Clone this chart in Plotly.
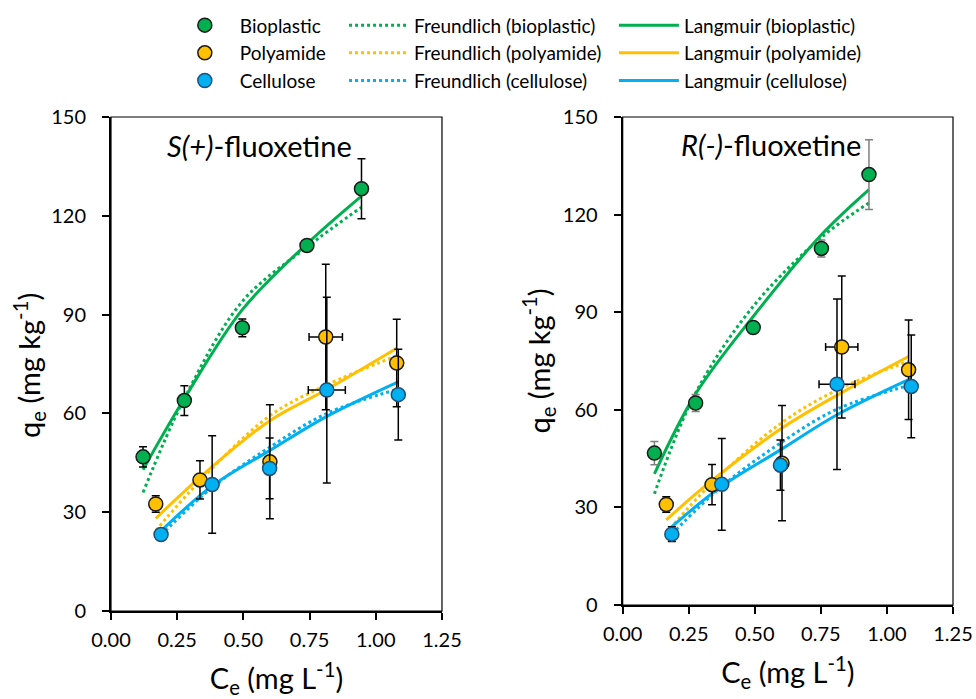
import plotly.graph_objects as go

# ---------------- data: S(+)-fluoxetine ----------------
s_bio_c = [0.121, 0.277, 0.496, 0.740, 0.946]
s_bio_q = [46.8, 63.9, 86.0, 111.0, 128.2]
s_bio_qerr = [3.1, 4.5, 2.7, 1.5, 9.1]
s_bio_cerr = [0.006, 0.006, 0.008, 0.012, 0.015]

s_pa_c = [0.169, 0.336, 0.600, 0.811, 1.079]
s_pa_q = [32.5, 39.8, 45.3, 83.2, 75.3]
s_pa_qerr = [2.5, 5.8, 17.3, 22.1, 13.3]
s_pa_cerr = [0.006, 0.006, 0.008, 0.063, 0.015]

s_ce_c = [0.189, 0.382, 0.599, 0.815, 1.085]
s_ce_q = [23.2, 38.4, 43.3, 67.1, 65.7]
s_ce_qerr = [1.5, 14.8, 9.2, 28.2, 13.8]
s_ce_cerr = [0.006, 0.016, 0.008, 0.070, 0.020]

s_bio_freund = [36.0, 64.5, 94.0, 110.5, 122.6]
s_bio_lang = [42.9, 64.5, 91.5, 111.5, 126.0]
s_pa_freund = [24.4, 39.5, 59.3, 68.5, 77.5]
s_pa_lang = [28.1, 40.6, 57.8, 67.1, 79.8]
s_ce_freund = [23.0, 37.5, 49.7, 60.0, 67.4]
s_ce_lang = [24.3, 38.0, 48.7, 59.1, 69.6]

# ---------------- data: R(-)-fluoxetine ----------------
r_bio_c = [0.120, 0.276, 0.494, 0.752, 0.932]
r_bio_q = [46.7, 62.1, 85.3, 109.6, 132.3]
r_bio_qerr = [3.6, 2.6, 1.0, 2.6, 10.7]
r_bio_cerr = [0.006, 0.006, 0.010, 0.006, 0.008]

r_pa_c = [0.165, 0.338, 0.603, 0.829, 1.082]
r_pa_q = [30.9, 37.0, 43.6, 79.3, 72.3]
r_pa_qerr = [2.4, 6.2, 17.7, 21.8, 15.3]
r_pa_cerr = [0.006, 0.006, 0.008, 0.061, 0.015]

r_ce_c = [0.186, 0.375, 0.597, 0.811, 1.092]
r_ce_q = [21.8, 37.1, 43.0, 67.9, 67.2]
r_ce_qerr = [2.3, 14.1, 7.7, 26.2, 15.8]
r_ce_cerr = [0.006, 0.015, 0.008, 0.068, 0.015]

r_bio_freund = [34.2, 65.2, 91.8, 113.0, 123.6]
r_bio_lang = [40.3, 64.9, 88.7, 113.8, 127.7]
r_pa_freund = [22.2, 37.5, 56.1, 66.8, 74.9]
r_pa_lang = [26.2, 38.3, 54.4, 65.3, 76.4]
r_ce_freund = [21.8, 36.5, 49.8, 60.2, 67.7]
r_ce_lang = [24.1, 36.5, 47.7, 58.5, 69.7]

x_ticks = [0.00, 0.25, 0.50, 0.75, 1.00, 1.25]
y_ticks = [0, 30, 60, 90, 120, 150]

materials = ["Bioplastic", "Polyamide", "Cellulose"]
lower = ["bioplastic", "polyamide", "cellulose"]
colors = ["#00B050", "#FFC000", "#00B0F0"]
outlines = ["#1a1a1a", "#1a1a1a", "#1F4E79"]

FONT = "Lato, 'Open Sans', sans-serif"

panels = [
    dict(xa="x", ya="y",
         pts=[(s_bio_c, s_bio_q, s_bio_qerr, s_bio_cerr),
              (s_pa_c, s_pa_q, s_pa_qerr, s_pa_cerr),
              (s_ce_c, s_ce_q, s_ce_qerr, s_ce_cerr)],
         fr=[s_bio_freund, s_pa_freund, s_ce_freund],
         la=[s_bio_lang, s_pa_lang, s_ce_lang],
         errcol=["black", "black", "black"]),
    dict(xa="x2", ya="y2",
         pts=[(r_bio_c, r_bio_q, r_bio_qerr, r_bio_cerr),
              (r_pa_c, r_pa_q, r_pa_qerr, r_pa_cerr),
              (r_ce_c, r_ce_q, r_ce_qerr, r_ce_cerr)],
         fr=[r_bio_freund, r_pa_freund, r_ce_freund],
         la=[r_bio_lang, r_pa_lang, r_ce_lang],
         errcol=["#7F7F7F", "black", "black"]),
]

fig = go.Figure()

for pi, p in enumerate(panels):
    show = pi == 0
    for i in range(3):
        c = p["pts"][i][0]
        fig.add_trace(go.Scatter(
            x=c, y=p["fr"][i], mode="lines", xaxis=p["xa"], yaxis=p["ya"],
            line=dict(color=colors[i], width=3, dash="dot", shape="spline"),
            name=f"Freundlich ({lower[i]})", legend="legend2",
            showlegend=show, legendgroup=f"f{i}"))
        fig.add_trace(go.Scatter(
            x=c, y=p["la"][i], mode="lines", xaxis=p["xa"], yaxis=p["ya"],
            line=dict(color=colors[i], width=3, shape="spline"),
            name=f"Langmuir ({lower[i]})", legend="legend3",
            showlegend=show, legendgroup=f"l{i}"))
    for i in range(3):
        c, q, qe, ce = p["pts"][i]
        fig.add_trace(go.Scatter(
            x=c, y=q, mode="markers", xaxis=p["xa"], yaxis=p["ya"],
            marker=dict(color=colors[i], size=14,
                        line=dict(color=outlines[i], width=1.5)),
            error_y=dict(type="data", array=qe, color=p["errcol"][i],
                         thickness=1.5, width=4),
            error_x=dict(type="data", array=ce, color=p["errcol"][i],
                         thickness=1.5, width=4),
            name=materials[i], legend="legend",
            showlegend=show, legendgroup=f"m{i}"))

axis_common = dict(
    showline=True, linecolor="black", linewidth=2,
    ticks="outside", ticklen=7, tickwidth=1.5, tickcolor="black",
    showgrid=False, zeroline=False,
    tickfont=dict(family=FONT, size=20, color="black"),
)

xtitle = dict(text="C<sub>e</sub> (mg L<sup>-1</sup>)",
              font=dict(family=FONT, size=29, color="black"), standoff=19)
YTITLE = "q<sub>e</sub> (mg kg<sup>-1</sup>)"

LEG_FONT = dict(family=FONT, size=19, color="black")
leg_common = dict(xref="container", yref="container", y=0.991,
                  xanchor="left", yanchor="top", font=LEG_FONT,
                  tracegroupgap=0, bgcolor="rgba(0,0,0,0)")

fig.update_layout(
    width=976, height=699,
    margin=dict(l=111, r=23, t=117, b=88, autoexpand=False),
    plot_bgcolor="white", paper_bgcolor="white",
    font=dict(family=FONT, color="black"),
    xaxis=dict(domain=[0, 0.3931], range=[0, 1.25], tickvals=x_ticks,
               ticktext=[f"{v:.2f}" for v in x_ticks], anchor="y",
               title=xtitle, ticklabelstandoff=3, **axis_common),
    yaxis=dict(domain=[0, 1], range=[0, 150], tickvals=y_ticks, anchor="x",
               ticklabelstandoff=12, **axis_common),
    xaxis2=dict(domain=[0.6077, 1], range=[0, 1.25], tickvals=x_ticks,
                ticktext=[f"{v:.2f}" for v in x_ticks], anchor="y2",
                title=xtitle, ticklabelstandoff=3, **axis_common),
    yaxis2=dict(domain=[0.012, 1], range=[0, 150], tickvals=y_ticks, anchor="x2",
                ticklabelstandoff=12, **axis_common),
    legend=dict(x=0.174, itemwidth=60, **leg_common),
    legend2=dict(x=0.3525, itemwidth=60, **leg_common),
    legend3=dict(x=0.629, itemwidth=60, **leg_common),
)

for xr, yr in [("x domain", "y domain"), ("x2 domain", "y2 domain")]:
    fig.add_shape(type="rect", xref=xr, yref=yr, x0=0, x1=1, y0=0, y1=1,
                  line=dict(color="black", width=1.2), layer="below")

# y-axis titles
for xp, yp in [(-0.0974, 0.498), (0.5077, 0.506)]:
    fig.add_annotation(text=YTITLE, xref="paper", yref="paper", x=xp, y=yp,
                       xanchor="center", yanchor="middle", textangle=-90,
                       showarrow=False,
                       font=dict(family=FONT, size=29, color="black"))

fig.add_annotation(text="<i>S(+)</i>-fluoxetine", xref="x domain", yref="y domain",
                   x=0.45, y=0.943, yanchor="middle", showarrow=False,
                   font=dict(family=FONT, size=29, color="black"))
fig.add_annotation(text="<i>R(-)</i>-fluoxetine", xref="x2 domain", yref="y2 domain",
                   x=0.449, y=0.9436, yanchor="middle", showarrow=False,
                   font=dict(family=FONT, size=29, color="black"))

fig.write_html(
    "out.html",
    config={"displayModeBar": False},
    post_script="document.body.style.margin='0';document.body.style.overflow='hidden';",
)
